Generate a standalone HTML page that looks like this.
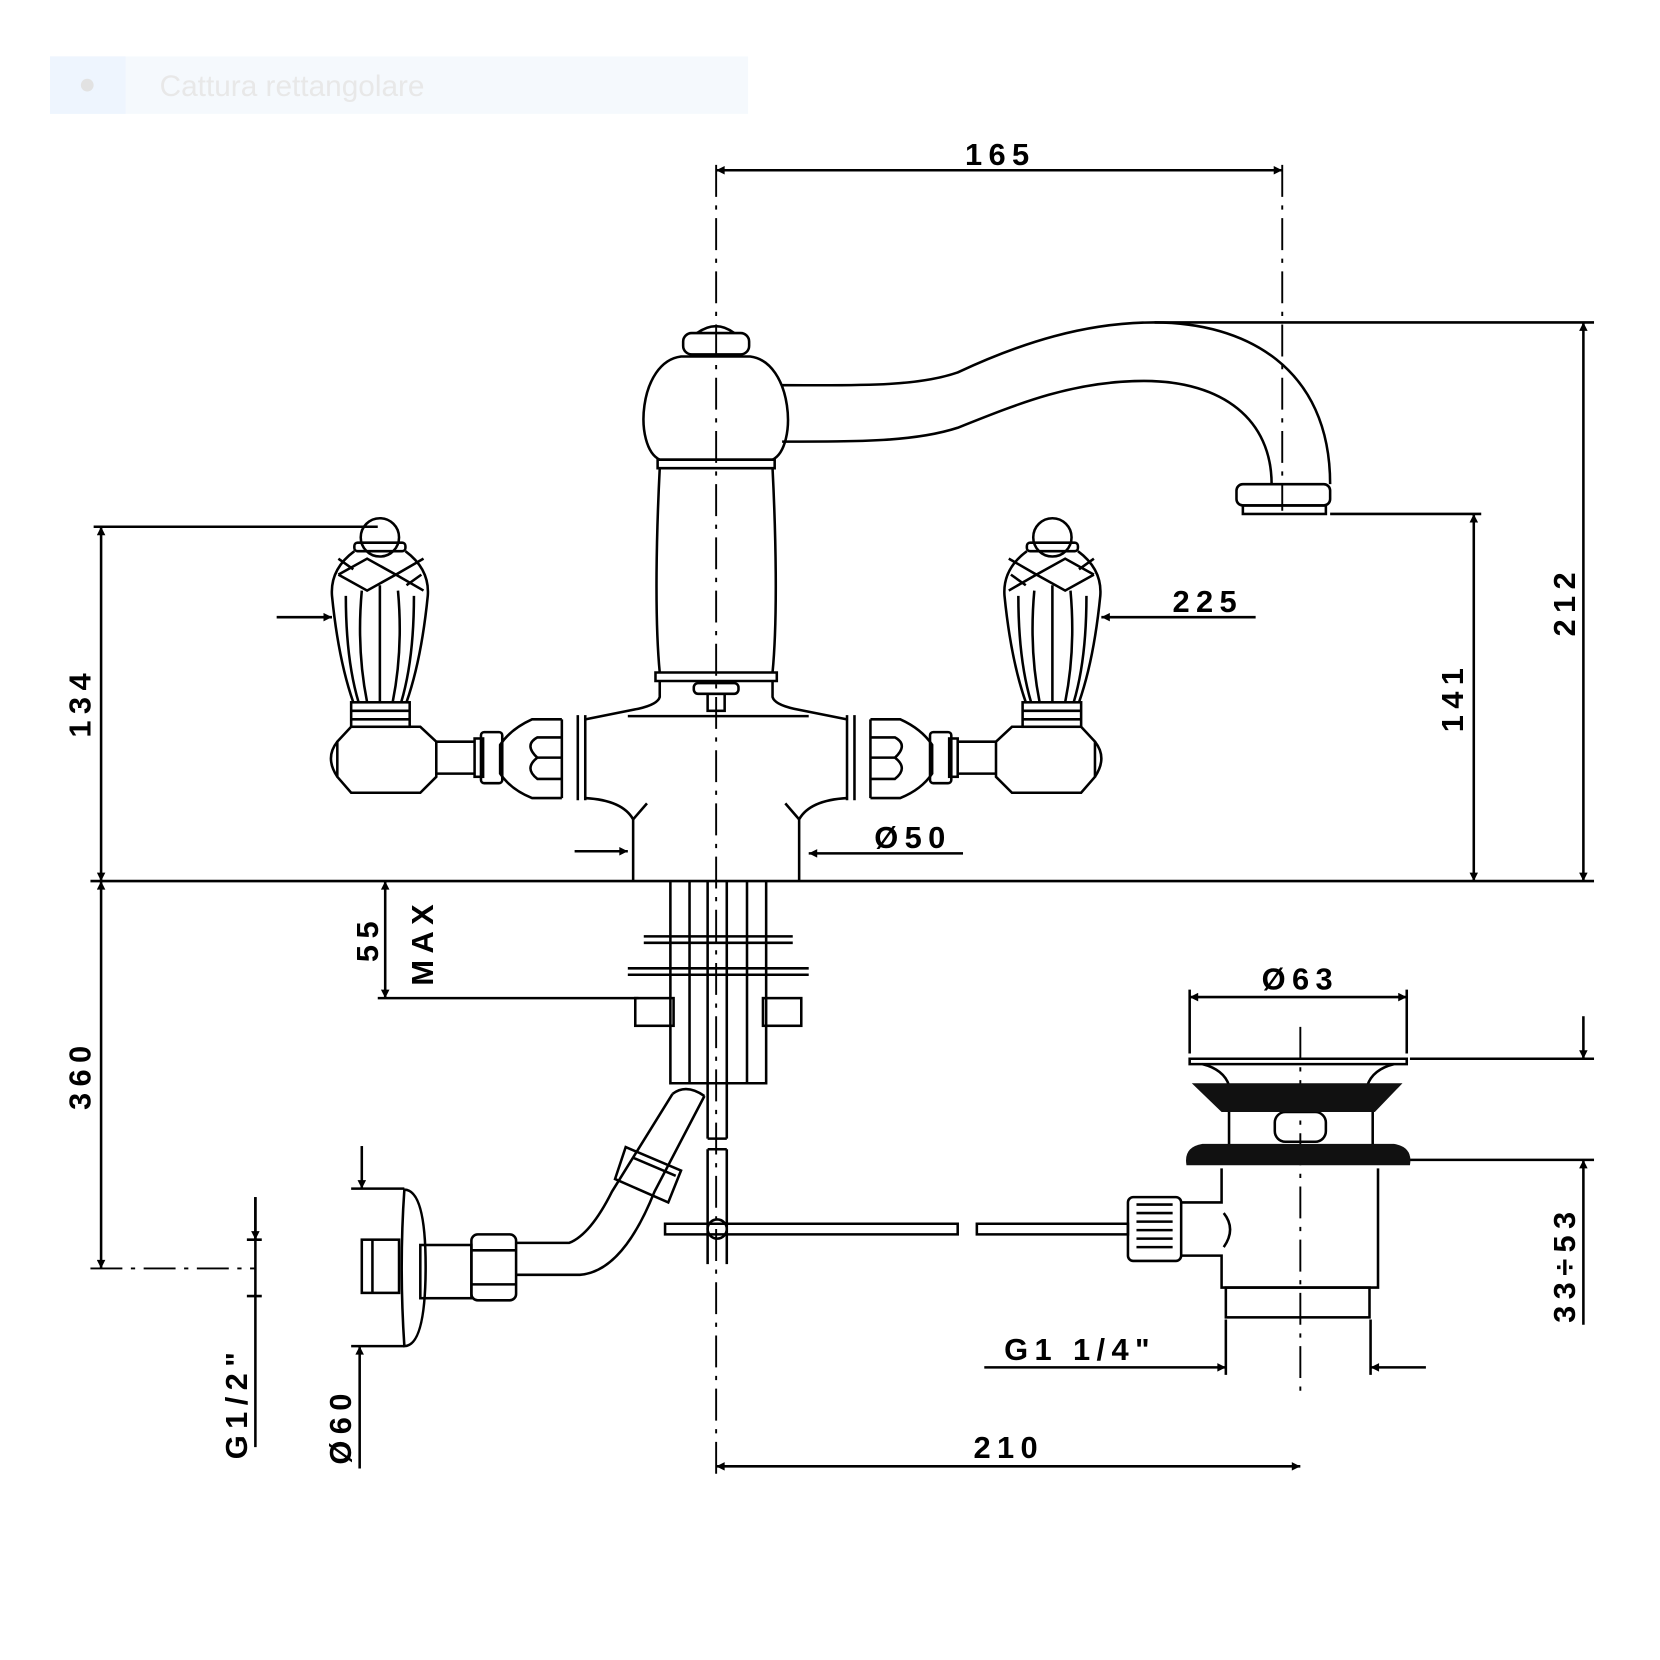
<!DOCTYPE html>
<html><head><meta charset="utf-8"><style>html,body{margin:0;padding:0;background:#fff}svg{display:block}</style></head>
<body>
<svg width="1660" height="1660" viewBox="0 0 1560 1560" xmlns="http://www.w3.org/2000/svg">
<defs>
<marker id="a" viewBox="0 0 10 10" refX="10" refY="5" markerWidth="16" markerHeight="8" orient="auto-start-reverse" markerUnits="userSpaceOnUse"><path d="M0,0 L10,5 L0,10 z" fill="#000"/></marker>
</defs>
<rect x="47" y="53" width="656" height="54" fill="#f5f9fd"/>
<rect x="47" y="53" width="71" height="54" fill="#eef5fe"/>
<circle cx="82" cy="80" r="6" fill="#e2e2e2"/>
<text x="150" y="90" font-family="Liberation Sans, sans-serif" font-size="28" fill="#e8e8e8">Cattura rettangolare</text>

<g fill="none" stroke="#000" stroke-width="2.4">
<path d="M673,155 V1385" stroke-dasharray="30,8,4,8" stroke-width="1.8"/>
<path d="M1205,155 V480" stroke-dasharray="30,8,4,8" stroke-width="1.8"/>
<path d="M1222,965 V1310" stroke-dasharray="30,8,4,8" stroke-width="1.8"/>
<path d="M85,1192 H240" stroke-dasharray="30,8,4,8" stroke-width="1.8"/>
<path d="M673,160 H1205" marker-start="url(#a)" marker-end="url(#a)"/>
<path d="M1085,303 H1498"/>
<path d="M1488,303 V828" marker-start="url(#a)" marker-end="url(#a)"/>
<path d="M1250,483 H1392"/>
<path d="M1385,483 V828" marker-start="url(#a)" marker-end="url(#a)"/>
<path d="M85,828 H1498"/>
<path d="M88,495 H355"/>
<path d="M95,495 V828" marker-start="url(#a)" marker-end="url(#a)"/>
<path d="M95,828 V1192" marker-start="url(#a)" marker-end="url(#a)"/>
<path d="M260,580 H312" marker-end="url(#a)"/>
<path d="M1180,580 H1035" marker-end="url(#a)"/>
<path d="M540,800 H590" marker-end="url(#a)"/>
<path d="M905,802 H760" marker-end="url(#a)"/>
<path d="M362,828 V938" marker-start="url(#a)" marker-end="url(#a)"/>
<path d="M355,938 H600"/>
<path d="M1118,930 V990 M1322,930 V990"/>
<path d="M1118,937 H1322" marker-start="url(#a)" marker-end="url(#a)"/>
<path d="M1325,995 H1498 M1325,1090 H1498"/>
<path d="M1488,955 V995" marker-end="url(#a)"/>
<path d="M1488,1245 V1090" marker-end="url(#a)"/>
<path d="M925,1285 H1152" marker-end="url(#a)"/>
<path d="M1340,1285 H1288" marker-end="url(#a)"/>
<path d="M1152,1240 V1292 M1288,1240 V1292"/>
<path d="M673,1378 H1222" marker-start="url(#a)" marker-end="url(#a)"/>
<path d="M240,1125 V1360 M232,1165 H246 M232,1218 H246"/>
<path d="M240,1125 V1165" marker-end="url(#a)"/>
<path d="M340,1077 V1117" marker-end="url(#a)"/>
<path d="M338,1380 V1265" marker-end="url(#a)"/>
<path d="M330,1117 H380 M330,1265 H380"/>

<path d="M735,362 C800,362 860,364 900,350 C960,322 1020,303 1085,303 C1170,303 1250,345 1250,455"/>
<path d="M735,415 C810,415 860,415 900,402 C960,378 1010,358 1075,358 C1150,358 1195,395 1195,455"/>
<rect x="1162" y="455" width="88" height="20" rx="6"/>
<rect x="1168" y="475" width="78" height="8"/>
<rect x="642" y="313" width="62" height="20" rx="8"/>
<path d="M655,313 Q673,300 690,313"/>
<path d="M640,335 C600,340 595,420 620,432 H726 C750,420 745,340 705,335 Z"/>
<path d="M618,432 H728 V440 H618 Z M620,440 C617,500 615,580 620,632 M726,440 C729,500 731,580 726,632"/>
<path d="M616,632 H730 V640 H616 Z"/>
<rect x="652" y="642" width="42" height="10" rx="4"/>
<rect x="665" y="652" width="16" height="16"/>
<path d="M620,640 V655 Q618,662 600,666 L550,676 M726,640 V655 Q728,662 746,666 L796,676"/>
<path d="M590,673 H760"/>
<path d="M550,750 Q585,752 595,770 V828 M796,750 Q761,752 751,770 V828"/>
<path d="M595,770 L608,755 M751,770 L738,755"/>
<path d="M550,672 V752 M543,672 V752 M528,676 V750"/>
<path d="M528,676 H500 Q480,685 470,700 V727 Q480,742 500,750 H528"/>
<path d="M528,693 H505 Q492,700 505,712 H528 M528,712 H505 Q492,722 505,732 H528"/>
<rect x="452" y="688" width="20" height="48" rx="3"/><rect x="446" y="694" width="8" height="36"/>
<path d="M410,697 H446 M410,727 H446"/>
<path d="M330,683 H395 L410,697 V730 L395,745 H330 L317,730 V697 Z"/>
<path d="M317,697 Q305,712 317,730"/>
<rect x="330" y="660" width="55" height="23"/><path d="M330,668 H385 M330,676 H385"/>
<circle cx="357" cy="505" r="18"/><rect x="333" y="510" width="48" height="8" rx="3"/>
<path d="M333,518 Q310,535 312,560 Q318,620 332,660 M381,518 Q404,535 402,560 Q396,620 382,660"/>
<path d="M318,540 L345,525 L372,540 L398,525 M318,540 L345,555 L372,540 L398,555 M318,525 L332,535 M396,540 L382,550"/>
<path d="M357,550 V660 M340,555 Q335,610 345,660 M374,555 Q379,610 369,660 M325,560 Q325,620 337,660 M389,560 Q389,620 377,660"/>
<g transform="translate(1346,0) scale(-1,1)">
<path d="M550,672 V752 M543,672 V752 M528,676 V750"/>
<path d="M528,676 H500 Q480,685 470,700 V727 Q480,742 500,750 H528"/>
<path d="M528,693 H505 Q492,700 505,712 H528 M528,712 H505 Q492,722 505,732 H528"/>
<rect x="452" y="688" width="20" height="48" rx="3"/><rect x="446" y="694" width="8" height="36"/>
<path d="M410,697 H446 M410,727 H446"/>
<path d="M330,683 H395 L410,697 V730 L395,745 H330 L317,730 V697 Z"/>
<path d="M317,697 Q305,712 317,730"/>
<rect x="330" y="660" width="55" height="23"/><path d="M330,668 H385 M330,676 H385"/>
<circle cx="357" cy="505" r="18"/><rect x="333" y="510" width="48" height="8" rx="3"/>
<path d="M333,518 Q310,535 312,560 Q318,620 332,660 M381,518 Q404,535 402,560 Q396,620 382,660"/>
<path d="M318,540 L345,525 L372,540 L398,525 M318,540 L345,555 L372,540 L398,555 M318,525 L332,535 M396,540 L382,550"/>
<path d="M357,550 V660 M340,555 Q335,610 345,660 M374,555 Q379,610 369,660 M325,560 Q325,620 337,660 M389,560 Q389,620 377,660"/>
</g>
<path d="M630,828 V1018 H720 V828 M648,828 V1018 M702,828 V1018"/>
<path d="M605,880 H745 M605,886 H745 M590,910 H760 M590,916 H760"/>
<rect x="597" y="938" width="36" height="26"/><rect x="717" y="938" width="36" height="26"/>
<path d="M665,828 V1070 M683,828 V1070 M665,1080 V1188 M683,1080 V1188 M665,1070 H683 M665,1080 H683"/>
<path d="M625,1150 H900 V1160 H625 Z M918,1150 H1060 V1160 H918 Z"/>
<circle cx="674" cy="1155" r="9"/>
<path d="M632,1028 L575,1120 Q555,1160 535,1168 H485 M662,1030 L615,1120 Q585,1195 545,1198 H485"/>
<path d="M632,1028 Q645,1018 662,1030"/>
<path d="M588,1078 L640,1100 L628,1130 L578,1108 Z M595,1088 L635,1105"/>
<rect x="443" y="1160" width="42" height="62" rx="6"/><path d="M443,1175 H485 M443,1207 H485"/>
<rect x="395" y="1170" width="48" height="50"/>
<path d="M380,1118 Q400,1118 400,1190 Q400,1265 380,1265 Q375,1190 380,1118 Z"/>
<rect x="340" y="1165" width="35" height="50"/><path d="M350,1165 V1215"/>
<rect x="1060" y="1125" width="50" height="60" rx="5"/>
<path d="M1068,1132 H1102 M1068,1140 H1102 M1068,1148 H1102 M1068,1156 H1102 M1068,1164 H1102 M1068,1172 H1102"/>
<path d="M1110,1130 H1148 V1098 M1110,1180 H1148 V1210 H1295 V1098"/>
<path d="M1150,1140 Q1162,1155 1150,1172"/>
<rect x="1152" y="1210" width="135" height="28"/>
<path d="M1118,995 H1322 V1000 H1118 Z"/>
<path d="M1130,1000 Q1150,1005 1155,1020 M1310,1000 Q1290,1005 1285,1020"/>
<path d="M1155,1045 V1078 M1290,1045 V1078"/>
<rect x="1198" y="1045" width="48" height="28" rx="10"/>
</g>
<path d="M1120,1018 H1318 L1292,1045 H1148 Z" fill="#111"/>
<path d="M1130,1075 H1310 Q1328,1078 1325,1095 H1115 Q1112,1078 1130,1075 Z" fill="#111"/>

<g font-family="Liberation Sans, sans-serif" font-weight="bold" font-size="29" fill="#000" letter-spacing="6" text-anchor="middle">
<text x="940" y="155">165</text>
<text x="1135" y="575">225</text>
<text x="858" y="797">Ø50</text>
<text x="1222" y="930">Ø63</text>
<text x="1015" y="1278">G1 1/4"</text>
<text x="948" y="1370">210</text>
<text transform="translate(1480,565) rotate(-90)">212</text>
<text transform="translate(1375,655) rotate(-90)">141</text>
<text transform="translate(85,660) rotate(-90)">134</text>
<text transform="translate(85,1010) rotate(-90)">360</text>
<text transform="translate(355,882) rotate(-90)">55</text>
<text transform="translate(407,885) rotate(-90)">MAX</text>
<text transform="translate(1480,1188) rotate(-90)">33÷53</text>
<text transform="translate(232,1318) rotate(-90)">G1/2"</text>
<text transform="translate(330,1340) rotate(-90)">Ø60</text>
</g>
</svg>
</body></html>
